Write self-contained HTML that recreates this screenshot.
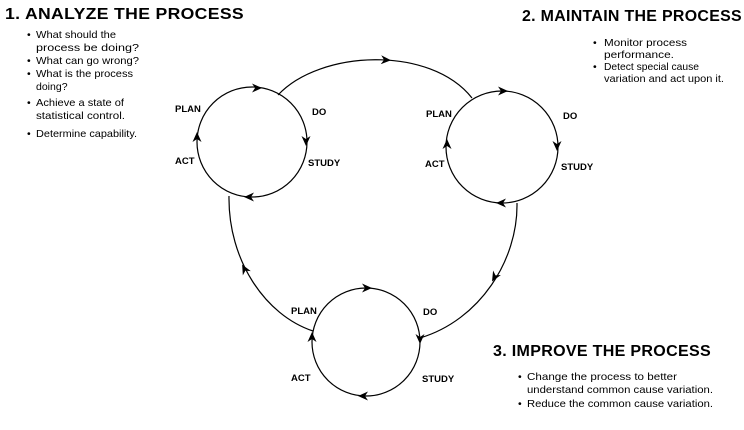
<!DOCTYPE html>
<html><head><meta charset="utf-8"><style>
html,body{margin:0;padding:0;background:#fff}
svg{display:block}
text{font-family:"Liberation Sans",sans-serif;fill:#000}
.t{font-size:15.5px;font-weight:bold;letter-spacing:0.3px}
.b{font-size:10.5px}
.l{font-size:9.5px;font-weight:bold}
</style></head><body>
<svg width="744" height="430" viewBox="0 0 744 430" xmlns="http://www.w3.org/2000/svg">
<defs>
<polygon id="ah" points="4,0 -6,-4.5 -3,0 -6,4.5" fill="#000"/>
</defs>
<g fill="none" stroke="#000" stroke-width="1.2">
<circle cx="252" cy="142" r="55"/>
<circle cx="502" cy="147" r="56"/>
<circle cx="366" cy="342" r="54"/>
<path d="M278,95 C320,50 430,45 472,98"/>
<path d="M517,203 C518,260 480,320 420,338"/>
<path d="M313,331 C265,315 228,260 229,196"/>
</g>
<use href="#ah" transform="translate(258,88) rotate(0)"/>
<use href="#ah" transform="translate(306,142) rotate(90)"/>
<use href="#ah" transform="translate(248,197) rotate(180)"/>
<use href="#ah" transform="translate(197,136) rotate(-90)"/>
<use href="#ah" transform="translate(504,91) rotate(0)"/>
<use href="#ah" transform="translate(557,147) rotate(90)"/>
<use href="#ah" transform="translate(500,203) rotate(180)"/>
<use href="#ah" transform="translate(447,143) rotate(-90)"/>
<use href="#ah" transform="translate(368,288) rotate(0)"/>
<use href="#ah" transform="translate(420,340) rotate(90)"/>
<use href="#ah" transform="translate(362,396) rotate(180)"/>
<use href="#ah" transform="translate(312,336) rotate(-90)"/>
<use href="#ah" transform="translate(387,60) rotate(3)"/>
<use href="#ah" transform="translate(494,278) rotate(120)"/>
<use href="#ah" transform="translate(244,268) rotate(-118)"/>
<text class="l" x="175" y="112">PLAN</text>
<text class="l" x="312" y="115">DO</text>
<text class="l" x="175" y="164">ACT</text>
<text class="l" x="308" y="166">STUDY</text>
<text class="l" x="426" y="117">PLAN</text>
<text class="l" x="563" y="119">DO</text>
<text class="l" x="425" y="167">ACT</text>
<text class="l" x="561" y="170">STUDY</text>
<text class="l" x="291" y="314">PLAN</text>
<text class="l" x="423" y="315">DO</text>
<text class="l" x="291" y="381">ACT</text>
<text class="l" x="422" y="382">STUDY</text>
<text class="t" x="5" y="19" textLength="239" lengthAdjust="spacingAndGlyphs">1.  ANALYZE THE PROCESS</text>
<text class="b" x="27" y="38">•</text>
<text class="b" x="36" y="38" textLength="80" lengthAdjust="spacingAndGlyphs">What should the</text>
<text class="b" x="36" y="51" textLength="103" lengthAdjust="spacingAndGlyphs">process be doing?</text>
<text class="b" x="27" y="64">•</text>
<text class="b" x="36" y="64" textLength="103" lengthAdjust="spacingAndGlyphs">What can go wrong?</text>
<text class="b" x="27" y="77">•</text>
<text class="b" x="36" y="77" textLength="97" lengthAdjust="spacingAndGlyphs">What is the process</text>
<text class="b" x="36" y="90">doing?</text>
<text class="b" x="27" y="106">•</text>
<text class="b" x="36" y="106" textLength="88" lengthAdjust="spacingAndGlyphs">Achieve a state of</text>
<text class="b" x="36" y="119" textLength="89" lengthAdjust="spacingAndGlyphs">statistical control.</text>
<text class="b" x="27" y="137">•</text>
<text class="b" x="36" y="137" textLength="101" lengthAdjust="spacingAndGlyphs">Determine capability.</text>
<text class="t" x="522" y="21" textLength="220" lengthAdjust="spacingAndGlyphs">2.  MAINTAIN THE PROCESS</text>
<text class="b" x="593" y="46">•</text>
<text class="b" x="604" y="46" textLength="83" lengthAdjust="spacingAndGlyphs">Monitor process</text>
<text class="b" x="604" y="58" textLength="70" lengthAdjust="spacingAndGlyphs">performance.</text>
<text class="b" x="593" y="70">•</text>
<text class="b" x="604" y="70" textLength="95" lengthAdjust="spacingAndGlyphs">Detect special cause</text>
<text class="b" x="604" y="82" textLength="120" lengthAdjust="spacingAndGlyphs">variation and act upon it.</text>
<text class="t" x="493" y="356" textLength="218" lengthAdjust="spacingAndGlyphs">3.  IMPROVE THE PROCESS</text>
<text class="b" x="518" y="380">•</text>
<text class="b" x="527" y="380" textLength="150" lengthAdjust="spacingAndGlyphs">Change the process to better</text>
<text class="b" x="527" y="393" textLength="186" lengthAdjust="spacingAndGlyphs">understand common cause variation.</text>
<text class="b" x="518" y="407">•</text>
<text class="b" x="527" y="407" textLength="186" lengthAdjust="spacingAndGlyphs">Reduce the common cause variation.</text>
</svg>
</body></html>
